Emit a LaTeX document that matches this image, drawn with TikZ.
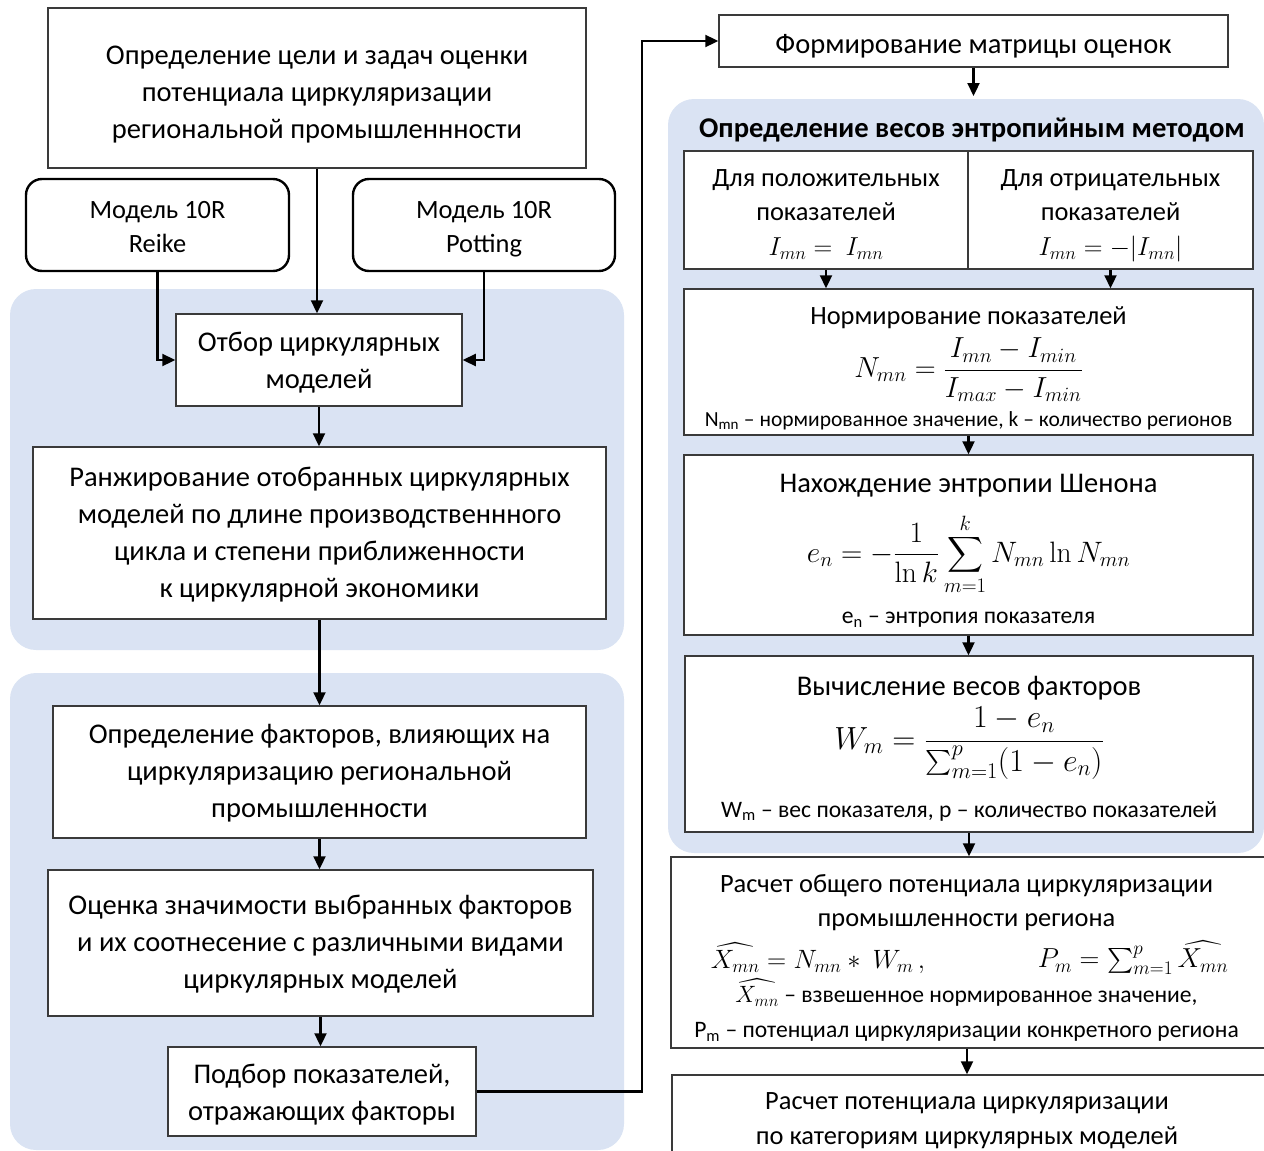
\RequirePackage{fix-cm}
\documentclass[tikz,border=0pt]{standalone}
\usepackage[no-math]{fontspec}
\setmainfont{Carlito}
\usepackage{amsmath}
\usetikzlibrary{arrows.meta}
\definecolor{panelblue}{HTML}{DAE3F3}
\definecolor{boxline}{HTML}{3A3A3A}
\newcommand{\mainfs}{\fontsize{28.5}{37}\selectfont}
\newcommand{\smallfs}{\fontsize{26.4}{34}\selectfont}
\newcommand{\notefs}{\fontsize{23.6}{35}\selectfont}
\begin{document}
\begin{tikzpicture}[x=1pt,y=-1pt,
  box/.style={draw=boxline, line width=1.5pt, fill=white, inner sep=0pt},
  rbox/.style={draw=black, line width=2.4pt, rounded corners=16pt, fill=white, inner sep=0pt},
  panel/.style={fill=panelblue, draw=none, rounded corners=26pt},
  arr/.style={draw=black, line width=2.3pt, -{Triangle[length=13pt,width=12pt]}},
  txt/.style={inner sep=0pt, align=center, font=\mainfs},
  stxt/.style={inner sep=0pt, align=center, font=\smallfs},
  note/.style={inner sep=0pt, align=center, font=\notefs},
]
\useasboundingbox (0,0) rectangle (1264,1151);
% panels
\fill[panel] (10,289) rectangle (624,650);
\fill[panel] (10,673) rectangle (624,1150);
\fill[panel] (668,99) rectangle (1264,853);

% left column
\node[box, minimum width=538pt, minimum height=160pt] (top) at (317,88) {};
\node[txt] (topt) at (317,95) {Определение цели и задач оценки\\потенциала циркуляризации\\региональной промышленнности};
\node[rbox, minimum width=263pt, minimum height=92pt] (reike) at (157.5,225) {};
\node[stxt] (reiket) at (157.5,227) {Модель 10R\\Reike};
\node[rbox, minimum width=262pt, minimum height=92pt] (potting) at (484,225) {};
\node[stxt] (pottingt) at (484,229) {Модель 10R\\Potting};
\node[box, minimum width=286pt, minimum height=92pt] (otbor) at (319,360) {};
\node[txt] (otbort) at (319,363) {Отбор циркулярных\\моделей};
\node[box, minimum width=573pt, minimum height=172pt] (rank) at (319.5,533) {};
\node[txt] (rankt) at (319.5,535)
  {Ранжирование отобранных циркулярных\\моделей по длине производственнного\\цикла и степени приближенности\\к циркулярной экономики};
\node[box, minimum width=533pt, minimum height=132pt] (factors) at (319.5,772) {};
\node[txt] (factorst) at (319.5,773)
  {Определение факторов, влияющих на\\циркуляризацию региональной\\промышленности};
\node[box, minimum width=545pt, minimum height=146pt] (assess) at (320.5,943) {};
\node[txt] (assesst) at (320.5,944)
  {Оценка значимости выбранных факторов\\и их соотнесение с различными видами\\циркулярных моделей};
\node[box, minimum width=308pt, minimum height=89pt] (pick) at (322,1091.5) {};
\node[txt] (pickt) at (322,1095) {Подбор показателей,\\отражающих факторы};

% right column
\node[box, minimum width=509pt, minimum height=52pt] (matrix) at (973.5,41) {};
\node[txt] (matrixt) at (973.5,46) {Формирование матрицы оценок};
\node[inner sep=0pt, font=\bfseries\fontsize{28.6}{30}\selectfont] (ptitle) at (972,130) {Определение весов энтропийным методом};
\coordinate (p3in) at (975,96);

\node[box, minimum width=284pt, minimum height=118pt] (posL) at (826,210) {};
\node[box, minimum width=285pt, minimum height=118pt] (negR) at (1110.5,210) {};
\node[stxt] (posLt) at (826,195) {Для положительных\\показателей};
\node[inner sep=0pt, font=\fontsize{26}{30}\selectfont] (posLf) at (826,249) {$I_{mn} = \ I_{mn}$};
\node[stxt] (negRt) at (1110.5,195) {Для отрицательных\\показателей};
\node[inner sep=0pt, font=\fontsize{26}{30}\selectfont] (negRf) at (1110.5,249) {$I_{mn} = -|I_{mn}|$};

\node[box, minimum width=569pt, minimum height=146pt] (norm) at (968.5,362) {};
\node[stxt] (normt) at (968.5,318) {Нормирование показателей};
\node[inner sep=0pt, font=\fontsize{29}{34}\selectfont] (normf) at (968.5,370)
  {$N_{mn} = \dfrac{I_{mn}-I_{min}}{I_{max}-I_{min}}$};
\node[note, font=\fontsize{21.5}{26}\selectfont] (normn) at (968.5,421)
  {N\textsubscript{mn} – нормированное значение, k – количество регионов};

\node[box, minimum width=569pt, minimum height=180pt] (shannon) at (968.5,545) {};
\node[txt] (shannont) at (968.5,486) {Нахождение энтропии Шенона};
\node[inner sep=0pt, font=\fontsize{29.5}{34}\selectfont] (shannonf) at (968.5,554)
  {$\displaystyle e_n = -\frac{1}{\ln k}\sum_{m=1}^{k} N_{mn}\ln N_{mn}$};
\node[note] (shannonn) at (968.5,620) {e\textsubscript{n} – энтропия показателя};

\node[box, minimum width=568pt, minimum height=176pt] (weights) at (969,744) {};
\node[txt] (weightst) at (969,688) {Вычисление весов факторов};
\node[inner sep=0pt, font=\fontsize{32}{38}\selectfont] (weightsf) at (969,743)
  {$W_m = \dfrac{1-e_n}{\sum_{m=1}^{p}(1-e_n)}$};
\node[note] (weightsn) at (969,811) {W\textsubscript{m} – вес показателя, p – количество показателей};

\node[box, minimum width=599pt, minimum height=191pt] (total) at (970.5,952.5) {};
\node[stxt] (totalt) at (966.5,903) {Расчет общего потенциала циркуляризации\\промышленности региона};
\node[inner sep=0pt, font=\fontsize{26.5}{32}\selectfont] (totalf1) at (818,958)
  {$\widehat{X_{mn}} = N_{mn} * \ W_m\,,$};
\node[inner sep=0pt, font=\fontsize{27.5}{32}\selectfont] (totalf2) at (1133,958)
  {$P_m = \sum_{m=1}^{p} \widehat{X_{mn}}$};
\node[note] (totaln) at (966.5,1010)
  {$\widehat{X_{mn}}$ – взвешенное нормированное значение,\\P\textsubscript{m} – потенциал циркуляризации конкретного региона};

\node[box, minimum width=598pt, minimum height=110pt] (last) at (971,1130) {};
\node[stxt, font=\fontsize{26.4}{35}\selectfont] (lastt) at (967,1121) {Расчет потенциала циркуляризации\\по категориям циркулярных моделей};

% connectors
\draw[arr] (top.south) -- (top.south |- otbor.north);
\draw[arr] (reike.south) |- (otbor.west);
\draw[arr] (potting.south) |- (otbor.east);
\draw[arr] (otbor.south) -- (otbor.south |- rank.north);
\draw[arr] (rank.south) -- (rank.south |- factors.north);
\draw[arr] (factors.south) -- (factors.south |- assess.north);
\draw[arr] (assess.south) -- (assess.south |- pick.north);
\coordinate (jx) at (642,41);
\draw[arr] (pick.east) -| (jx) -- (matrix.west);
\draw[arr] (matrix.south) -- (matrix.south |- p3in);
\draw[arr] (posL.south) -- (posL.south |- norm.north);
\draw[arr] (negR.south) -- (negR.south |- norm.north);
\draw[arr] (norm.south) -- (shannon.north);
\draw[arr] (shannon.south) -- (shannon.south |- weights.north);
\draw[arr] (weights.south) -- (weights.south |- total.north);
\draw[arr] (lastt.north |- total.south) -- (lastt.north |- last.north);
\end{tikzpicture}
\end{document}
